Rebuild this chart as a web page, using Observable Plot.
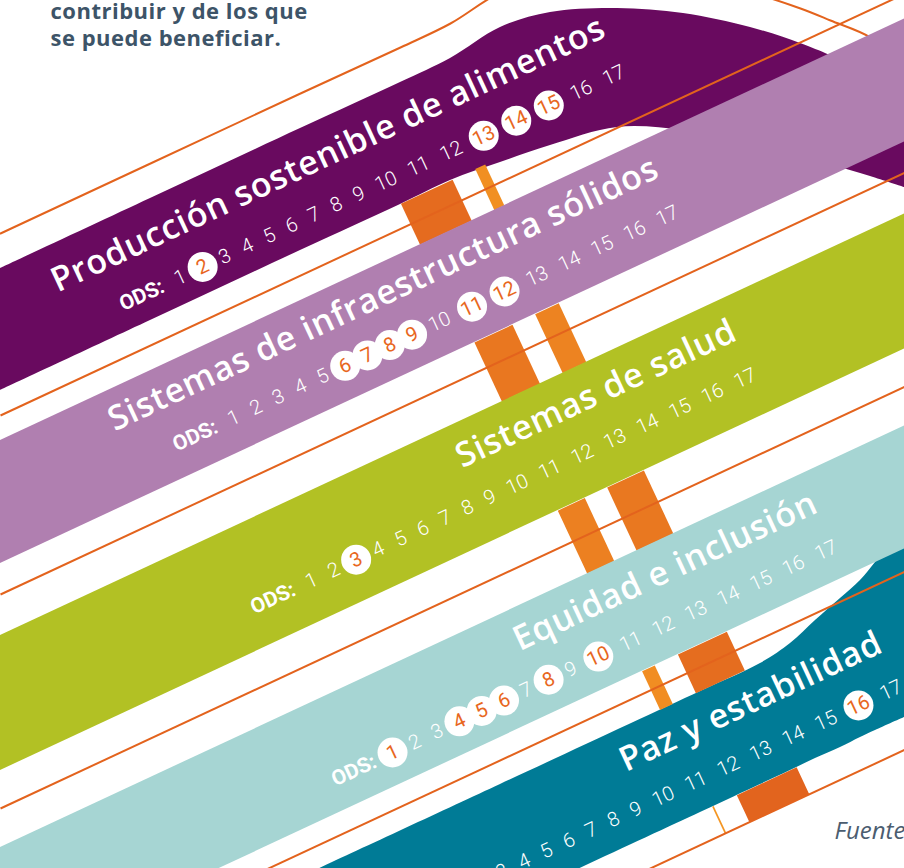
<!DOCTYPE html>
<html><head><meta charset="utf-8">
<script src="https://cdn.jsdelivr.net/npm/d3@7"></script>
<script src="https://cdn.jsdelivr.net/npm/@observablehq/plot@0.6"></script>
<style>
html,body{margin:0;padding:0;background:#fff;overflow:hidden;}
#chart svg{display:block;}
</style>
</head><body>
<div id="chart"></div>
<script>
// ================= DATA =================
const bandNames = ["Producción sostenible de alimentos", "Sistemas de infraestructura sólidos", "Sistemas de salud", "Equidad e inclusión", "Paz y estabilidad"];
// band edges: y-intercept at x = 0 of the diagonal band (top / bottom)
const bandTop = [268, 440, 635, 847, 1017];
const bandBottom = [390, 563, 770, 970, 1138];
const odsNumbers = d3.range(1, 18);
const odsHighlighted = [[2, 13, 14, 15], [6, 7, 8, 9, 11, 12], [3], [1, 4, 5, 6, 8, 10], [16]];
// thin rules between bands (y-intercepts at x = 0)
const ruleIntercepts = [415, 594, 808, 993, 1171];
// wavy ribbon (first band)
const purpleWaveX = [0, 150, 300, 400, 450, 500, 550, 617, 683, 750, 800, 830, 870, 904];
const purpleWaveTop = [268, 198, 128, 82, 58, 27, 12, 8, 13, 27, 43, 55, 72, 100];
const purpleWaveBottom = [390, 320, 250, 204, 180, 162, 145, 127, 130, 142, 155, 164, 176, 187];
// wavy ribbon (last band)
const tealWaveX = [300, 500, 700, 760, 790, 815, 840, 860, 875, 904];
const tealWaveTop = [877, 784, 691, 663, 643, 620, 598, 580, 562, 525];
const tealWaveBottom = [998, 905, 812, 784, 770, 758, 747, 737, 730, 717];
// two twisting orange strands visible in the gaps (gap index, start/end along the band)
const strandGap = [1, 1, 2, 2, 3, 3, 4, 4, 5, 5];
const strandStart = [277, 359, 285, 352, 289.5, 344, 298, 337.5, 304.3, 331.5];
const strandEnd = [334, 370, 327, 378, 319.3, 384.5, 312, 391.5, 306, 397.5];
const introLines = ["contribuir y de los que", "se puede beneficiar."];
const sourceLabel = "Fuente:";

// ================= LAYOUT / STYLE =================
const W = 904, H = 868;
const ang = 25 * Math.PI / 180, C = Math.cos(ang), S = Math.sin(ang), T = Math.tan(ang);
const bandColors = ["#690A5F", "#B07FB0", "#B2C124", "#A6D5D3", "#007B96"];
const orange = "#E3631D", circleText = "#E8671E";
const odsStartU = [46, 35, 36.8, 37.5, 37.2];
const odsOffsetV = [84, 78, 81.6, 79.6, 79.8];
const toXY = (u, v) => [u * C + v * S, -u * S + v * C];

// positions of numbers along the band
const digitW = 11.3, gapW = 13.3;
const pos = [0];
for (let k = 1; k < odsNumbers.length; k++) {
  const a = String(odsNumbers[k - 1]).length * digitW, b = String(odsNumbers[k]).length * digitW;
  pos.push(pos[k - 1] + (a + b) / 2 + gapW);
}

const numbers = [], titles = [], odsLabels = [];
bandNames.forEach((name, b) => {
  const v = bandTop[b] * C + odsOffsetV[b];
  odsNumbers.forEach((n, k) => {
    const [x, y] = toXY(odsStartU[b] + pos[k], v);
    numbers.push({band: b, n, x, y, hi: odsHighlighted[b].includes(n)});
  });
  const uEnd = odsStartU[b] + pos[pos.length - 1] + 11;
  const [tx, ty] = toXY(uEnd, v - 38);
  titles.push({name, x: tx, y: ty});
  const [ox, oy] = toXY(odsStartU[b] - 19, v);
  odsLabels.push({x: ox, y: oy});
});

const purple = purpleWaveX.map((x, i) => ({x, y1: purpleWaveTop[i], y2: purpleWaveBottom[i]}));
const tealWave = tealWaveX.map((x, i) => ({x, y1: tealWaveTop[i], y2: tealWaveBottom[i]}));

const strandPts = [];
strandGap.forEach((g, i) => {
  const v0 = bandBottom[g - 1] * C;
  const v1 = (g < 5 ? bandTop[g] : ruleIntercepts[4]) * C;
  const u0 = strandStart[i], u1 = strandEnd[i], w = u1 - u0;
  [[u0, v0], [u1, v0], [u1, v1], [u0, v1], [u0, v0]].forEach(([u, v]) => {
    const [x, y] = toXY(u, v);
    strandPts.push({id: i, x, y, w});
  });
});

const straight = [1, 2, 3].map(b => [
  {x: 0, y1: bandTop[b], y2: bandBottom[b]},
  {x: W, y1: bandTop[b] - T * W, y2: bandBottom[b] - T * W}
]);
const rules = ruleIntercepts.map(b => ({x1: 0, y1: b, x2: W, y2: b - T * W}));

const marks = [
  Plot.areaY(purple, {x: "x", y1: "y1", y2: "y2", fill: bandColors[0], curve: "catmull-rom"}),
  Plot.line(purple, {x: "x", y: d => d.y1 - 35, stroke: orange, strokeWidth: 2, curve: "catmull-rom"}),
  Plot.areaY(tealWave, {x: "x", y1: "y1", y2: "y2", fill: bandColors[4], curve: "catmull-rom"}),
  ...d3.groups(strandPts, d => d.id).map(([id, pts]) =>
    Plot.line(pts, {x: "x", y: "y", fill: "w", stroke: "none"})),
  ...straight.map((pts, i) => Plot.areaY(pts, {x: "x", y1: "y1", y2: "y2", fill: bandColors[i + 1]})),
  Plot.link(rules, {x1: "x1", y1: "y1", x2: "x2", y2: "y2", stroke: orange, strokeWidth: 2}),
  Plot.dot(numbers.filter(d => d.hi), {x: "x", y: "y", r: 15, fill: "white", stroke: "none"}),
  Plot.text(numbers.filter(d => !d.hi), {x: "x", y: "y", text: "n", rotate: -25, fill: "white", fontFamily: "Roboto", fontWeight: 300, fontSize: 20}),
  Plot.text(numbers.filter(d => d.hi), {x: "x", y: "y", text: "n", rotate: -25, fill: circleText, fontFamily: "Roboto", fontWeight: 400, fontSize: 20}),
  Plot.text(odsLabels, {x: "x", y: "y", text: () => "ODS:", rotate: -25, textAnchor: "end", fill: "white", fontFamily: "Roboto", fontWeight: 700, fontSize: 21}),
  Plot.text(titles, {x: "x", y: "y", text: "name", rotate: -25, textAnchor: "end", lineAnchor: "bottom", fill: "white", fontFamily: "Open Sans", fontWeight: 600, fontSize: 34}),
  Plot.text(introLines, {x: 50, y: (d, i) => 18 + i * 27, text: d => d, textAnchor: "start", lineAnchor: "bottom", fill: "#3D5468", fontFamily: "Open Sans", fontWeight: 700, fontSize: 22}),
  Plot.text([sourceLabel], {x: 834, y: 838, text: d => d, textAnchor: "start", lineAnchor: "bottom", fill: "#4B5D70", fontFamily: "Open Sans", fontStyle: "italic", fontWeight: 400, fontSize: 24})
];

const chart = Plot.plot({
  width: W, height: H, margin: 0,
  x: {domain: [0, W], range: [0, W], axis: null},
  y: {domain: [0, H], range: [0, H], axis: null},
  color: {type: "linear", domain: [2, 66], range: ["#F49623", "#E2641E"]},
  style: {background: "white"},
  marks
});
// typographic tracking for band titles and intro text
d3.select(chart).selectAll("text")
  .filter(function() { return bandNames.includes(this.textContent); })
  .style("letter-spacing", "0.7px");
d3.select(chart).selectAll("text")
  .filter(function() { return introLines.includes(this.textContent); })
  .style("letter-spacing", "0.5px");
document.getElementById("chart").appendChild(chart);
</script>
</body></html>
